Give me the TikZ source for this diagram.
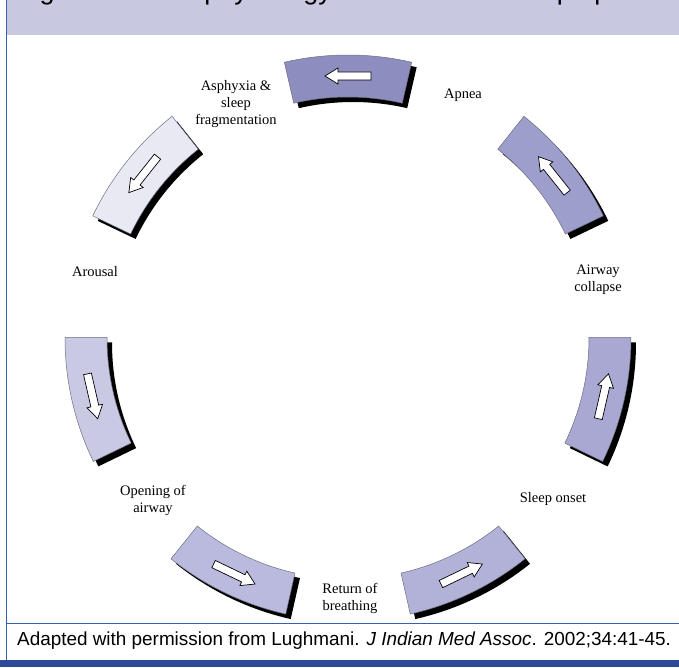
\documentclass[tikz,border=0pt]{standalone}
\usepackage{fontspec}
\setmainfont{Liberation Serif}
\newfontfamily\capfont{Liberation Sans}
\usepackage{tikz}

\definecolor{segA}{RGB}{141,141,191}
\definecolor{segB}{RGB}{158,158,204}
\definecolor{segC}{RGB}{168,168,210}
\definecolor{segD}{RGB}{178,178,216}
\definecolor{segE}{RGB}{186,186,222}
\definecolor{segF}{RGB}{201,201,228}
\definecolor{segG}{RGB}{233,233,243}
\definecolor{band}{RGB}{200,200,224}
\definecolor{rule}{RGB}{55,95,175}
\definecolor{foot}{RGB}{43,75,150}
\definecolor{rim}{RGB}{105,112,128}

\begin{document}
\begin{tikzpicture}[x=1pt,y=1pt,
  seg/.style={draw=rim,line width=0.5pt},
  dropshadow/.style={fill=black,shift={(5,-5)}},
  blockarrow/.style={draw=black,fill=white,line width=0.7pt},
  lbl/.style={font=\fontsize{14.5}{17}\selectfont,align=center,inner sep=0pt}]
\useasboundingbox (-348,338) rectangle (331,-329);
\clip (-348,338) rectangle (331,-329);
\fill [band] (-341,338) rectangle (331,303);
\node (title) [anchor=base west,inner sep=0pt,font=\capfont\fontsize{27}{32}\selectfont] at (-331,338.5) {Figure 1. Pathophysiology of obstructive sleep apnea};
\draw [rule,line width=0.8pt] (-341.5,338) -- (-341.5,-322);
\draw [rule,line width=0.8pt] (-341.5,-285) -- (331,-285);
\fill [foot] (-348,-322) rectangle (331,-329);
\node (caption) [anchor=base west,inner sep=0pt,font=\capfont\fontsize{18.9}{23}\selectfont] at (-331,-307) {Adapted with permission from Lughmani. \textit{J Indian Med Assoc}. 2002;34:41-45.};
\fill [dropshadow] (77:241) -- (77:283) arc (77:103:283) -- (103:241) arc (103:77:241) -- cycle;
\draw [seg,fill=segA] (77:241) -- (77:283) arc (77:103:283) -- (103:241) arc (103:77:241) -- cycle;
\draw [blockarrow,shift={(90:262)},rotate=180] (23,0) -- (10,8) -- (10,4) -- (-23,4) -- (-23,-4) -- (10,-4) -- (10,-8) -- cycle;
\fill [dropshadow] (25.571:241) -- (25.571:283) arc (25.571:51.571:283) -- (51.571:241) arc (51.571:25.571:241) -- cycle;
\draw [seg,fill=segB] (25.571:241) -- (25.571:283) arc (25.571:51.571:283) -- (51.571:241) arc (51.571:25.571:241) -- cycle;
\draw [blockarrow,shift={(38.571:262)},rotate=128.571] (23,0) -- (10,8) -- (10,4) -- (-23,4) -- (-23,-4) -- (10,-4) -- (10,-8) -- cycle;
\fill [dropshadow] (-25.857:241) -- (-25.857:283) arc (-25.857:0.143:283) -- (0.143:241) arc (0.143:-25.857:241) -- cycle;
\draw [seg,fill=segC] (-25.857:241) -- (-25.857:283) arc (-25.857:0.143:283) -- (0.143:241) arc (0.143:-25.857:241) -- cycle;
\draw [blockarrow,shift={(-12.857:262)},rotate=77.143] (23,0) -- (10,8) -- (10,4) -- (-23,4) -- (-23,-4) -- (10,-4) -- (10,-8) -- cycle;
\fill [dropshadow] (-77.286:241) -- (-77.286:283) arc (-77.286:-51.286:283) -- (-51.286:241) arc (-51.286:-77.286:241) -- cycle;
\draw [seg,fill=segD] (-77.286:241) -- (-77.286:283) arc (-77.286:-51.286:283) -- (-51.286:241) arc (-51.286:-77.286:241) -- cycle;
\draw [blockarrow,shift={(-64.286:262)},rotate=25.714] (23,0) -- (10,8) -- (10,4) -- (-23,4) -- (-23,-4) -- (10,-4) -- (10,-8) -- cycle;
\fill [dropshadow] (-128.714:241) -- (-128.714:283) arc (-128.714:-102.714:283) -- (-102.714:241) arc (-102.714:-128.714:241) -- cycle;
\draw [seg,fill=segE] (-128.714:241) -- (-128.714:283) arc (-128.714:-102.714:283) -- (-102.714:241) arc (-102.714:-128.714:241) -- cycle;
\draw [blockarrow,shift={(-115.714:262)},rotate=-25.714] (23,0) -- (10,8) -- (10,4) -- (-23,4) -- (-23,-4) -- (10,-4) -- (10,-8) -- cycle;
\fill [dropshadow] (-180.143:241) -- (-180.143:283) arc (-180.143:-154.143:283) -- (-154.143:241) arc (-154.143:-180.143:241) -- cycle;
\draw [seg,fill=segF] (-180.143:241) -- (-180.143:283) arc (-180.143:-154.143:283) -- (-154.143:241) arc (-154.143:-180.143:241) -- cycle;
\draw [blockarrow,shift={(-167.143:262)},rotate=-77.143] (23,0) -- (10,8) -- (10,4) -- (-23,4) -- (-23,-4) -- (10,-4) -- (10,-8) -- cycle;
\fill [dropshadow] (128.429:241) -- (128.429:283) arc (128.429:154.429:283) -- (154.429:241) arc (154.429:128.429:241) -- cycle;
\draw [seg,fill=segG] (128.429:241) -- (128.429:283) arc (128.429:154.429:283) -- (154.429:241) arc (154.429:128.429:241) -- cycle;
\draw [blockarrow,shift={(141.429:262)},rotate=231.429] (23,0) -- (10,8) -- (10,4) -- (-23,4) -- (-23,-4) -- (10,-4) -- (10,-8) -- cycle;
\node (apnea) [lbl] at (115,243) {Apnea};
\node (collapse) [lbl] at (250,58) {Airway\\collapse};
\node (onset) [lbl] at (205,-161) {Sleep onset};
\node (return) [lbl] at (2,-260) {Return of\\breathing};
\node (opening) [lbl] at (-195,-162) {Opening of\\airway};
\node (arousal) [lbl] at (-253,66) {Arousal};
\node (asphyxia) [lbl] at (-112,234) {Asphyxia \&\\sleep\\fragmentation};
\end{tikzpicture}
\end{document}
